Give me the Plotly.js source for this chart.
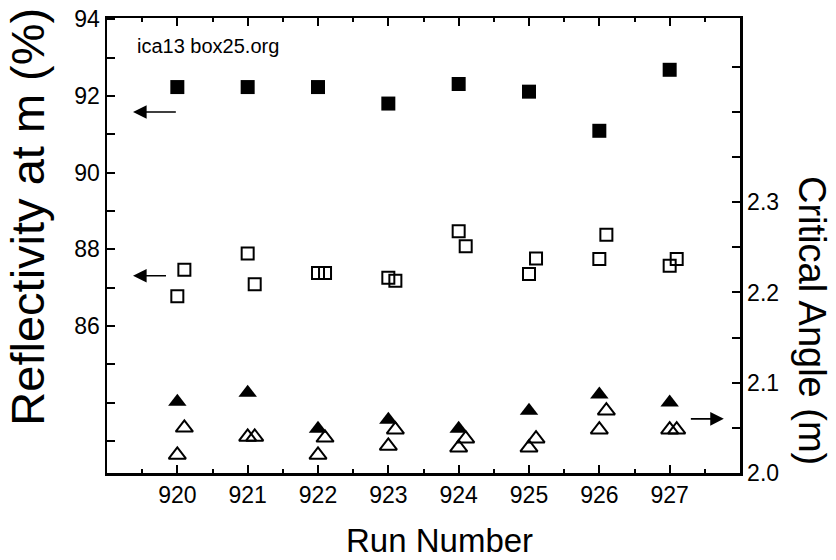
<!DOCTYPE html>
<html>
<head>
<meta charset="utf-8">
<script src="https://cdn.plot.ly/plotly-3.0.1.min.js"></script>
<style>html,body{margin:0;padding:0;background:#fff;}#chart{width:836px;height:560px;}</style>
</head>
<body>
<div id="chart"></div>
<script>
// Run numbers
const runs = [920, 921, 922, 923, 924, 925, 926, 927];
// Reflectivity (%) - filled squares (left axis)
const reflFilled = [92.23, 92.23, 92.23, 91.80, 92.31, 92.11, 91.09, 92.68];
// Reflectivity (%) - open squares, first and second measurement (left axis)
const reflOpenA = [86.78, 87.89, 87.38, 87.26, 88.47, 87.36, 87.75, 87.57];
const reflOpenB = [87.47, 87.09, 87.38, 87.18, 88.08, 87.76, 88.38, 87.75];
// Critical angle (m) - filled triangles (right axis)
const angleFilled = [2.079, 2.089, 2.049, 2.059, 2.049, 2.069, 2.087, 2.078];
// Critical angle (m) - open triangles, first and second measurement (right axis)
const angleOpenA = [2.020, 2.040, 2.020, 2.030, 2.028, 2.028, 2.048, 2.048];
const angleOpenB = [2.050, 2.040, 2.039, 2.048, 2.038, 2.038, 2.069, 2.048];
// Axis tick values / labels
const xTicks = [920, 921, 922, 923, 924, 925, 926, 927];
const yLeftTicks = [83, 84, 85, 86, 87, 88, 89, 90, 91, 92, 93, 94];
const yLeftLabels = ['', '', '', '86', '', '88', '', '90', '', '92', '', '94'];
const yRightTicks = [2.0, 2.05, 2.1, 2.15, 2.2, 2.25, 2.3, 2.35, 2.4, 2.45];
const yRightLabels = ['2.0', '', '2.1', '', '2.2', '', '2.3', '', '', ''];
// Arrow indicators: [headX, tailX, y]
const arrowFilledSq = [919.37, 920.0, 91.58];
const arrowOpenSq = [919.37, 919.86, 87.31];
const arrowTri = [927.77, 927.28, 2.060];

const OFFSET = 0.1;
const FONT = '"Liberation Sans", Arial, Helvetica, sans-serif';
const xB = runs.map(r => r + OFFSET);

const traces = [
  {x: runs, y: reflFilled, type: 'scatter', mode: 'markers', yaxis: 'y',
   marker: {symbol: 'square', size: 14, color: '#000', line: {width: 0}}},
  {x: runs, y: reflOpenA, type: 'scatter', mode: 'markers', yaxis: 'y',
   marker: {symbol: 'square-open', size: 12, color: '#000', line: {width: 2, color: '#000'}}},
  {x: xB, y: reflOpenB, type: 'scatter', mode: 'markers', yaxis: 'y',
   marker: {symbol: 'square-open', size: 12, color: '#000', line: {width: 2, color: '#000'}}},
  {x: runs, y: angleFilled, type: 'scatter', mode: 'markers', yaxis: 'y2',
   marker: {symbol: 'triangle-up', size: 16, color: '#000', line: {width: 0}}},
  {x: runs, y: angleOpenA, type: 'scatter', mode: 'markers', yaxis: 'y2',
   marker: {symbol: 'triangle-up-open', size: 15, color: '#000', line: {width: 2, color: '#000'}}},
  {x: xB, y: angleOpenB, type: 'scatter', mode: 'markers', yaxis: 'y2',
   marker: {symbol: 'triangle-up-open', size: 15, color: '#000', line: {width: 2, color: '#000'}}}
];

function arrow(a, yref) {
  return {x: a[0], y: a[2], ax: a[1], ay: a[2], xref: 'x', yref: yref, axref: 'x', ayref: yref,
          text: '', showarrow: true, arrowhead: 2, arrowsize: 1.7, arrowwidth: 1.6, arrowcolor: '#000'};
}

const layout = {
  width: 836, height: 560,
  margin: {l: 107, r: 96, t: 18, b: 87, pad: 0},
  paper_bgcolor: '#fff', plot_bgcolor: '#fff',
  showlegend: false,
  font: {family: FONT, color: '#000', size: 23},
  xaxis: {
    range: [919, 928], tickvals: xTicks, ticks: 'inside', ticklen: 8, tickwidth: 2,
    tickcolor: '#000', showline: true, linewidth: 2.5, linecolor: '#000', mirror: 'ticks',
    showgrid: false, zeroline: false, tickfont: {size: 23, family: FONT},
    minor: {dtick: 0.5, tick0: 919.5, ticks: 'inside', ticklen: 4, tickwidth: 2, tickcolor: '#000', showgrid: false}
  },
  yaxis: {
    range: [82.17, 94.03], tickvals: yLeftTicks, ticktext: yLeftLabels, ticks: 'inside',
    ticklen: 8, tickwidth: 2, tickcolor: '#000', showline: true, linewidth: 2.5, linecolor: '#000',
    showgrid: false, zeroline: false, tickfont: {size: 23, family: FONT}
  },
  yaxis2: {
    overlaying: 'y', side: 'right', range: [2.0, 2.504], tickvals: yRightTicks, ticktext: yRightLabels,
    ticks: 'inside', ticklen: 8, tickwidth: 2, tickcolor: '#000', showline: true, linewidth: 2.5,
    linecolor: '#000', showgrid: false, zeroline: false, tickfont: {size: 23, family: FONT}
  },
  annotations: [
    arrow(arrowFilledSq, 'y'), arrow(arrowOpenSq, 'y'), arrow(arrowTri, 'y2'),
    {text: 'Reflectivity at m (%)', xref: 'paper', yref: 'paper', x: -0.127, y: 0.5626,
     xanchor: 'center', yanchor: 'middle', textangle: -90, showarrow: false, font: {size: 47, family: FONT}},
    {text: 'Critical Angle (m)', xref: 'paper', yref: 'paper', x: 1.114, y: 0.336,
     xanchor: 'center', yanchor: 'middle', textangle: 90, showarrow: false, font: {size: 38, family: FONT}},
    {text: 'Run Number', xref: 'paper', yref: 'paper', x: 0.526, y: -0.148,
     xanchor: 'center', yanchor: 'middle', showarrow: false, font: {size: 33, family: FONT}},
    {text: 'ica13 box25.org', xref: 'paper', yref: 'paper', x: 0.0442, y: 0.9385,
     xanchor: 'left', yanchor: 'middle', showarrow: false, font: {size: 20, family: FONT}}
  ]
};

Plotly.newPlot('chart', traces, layout, {staticPlot: true, displayModeBar: false});
</script>
</body>
</html>
